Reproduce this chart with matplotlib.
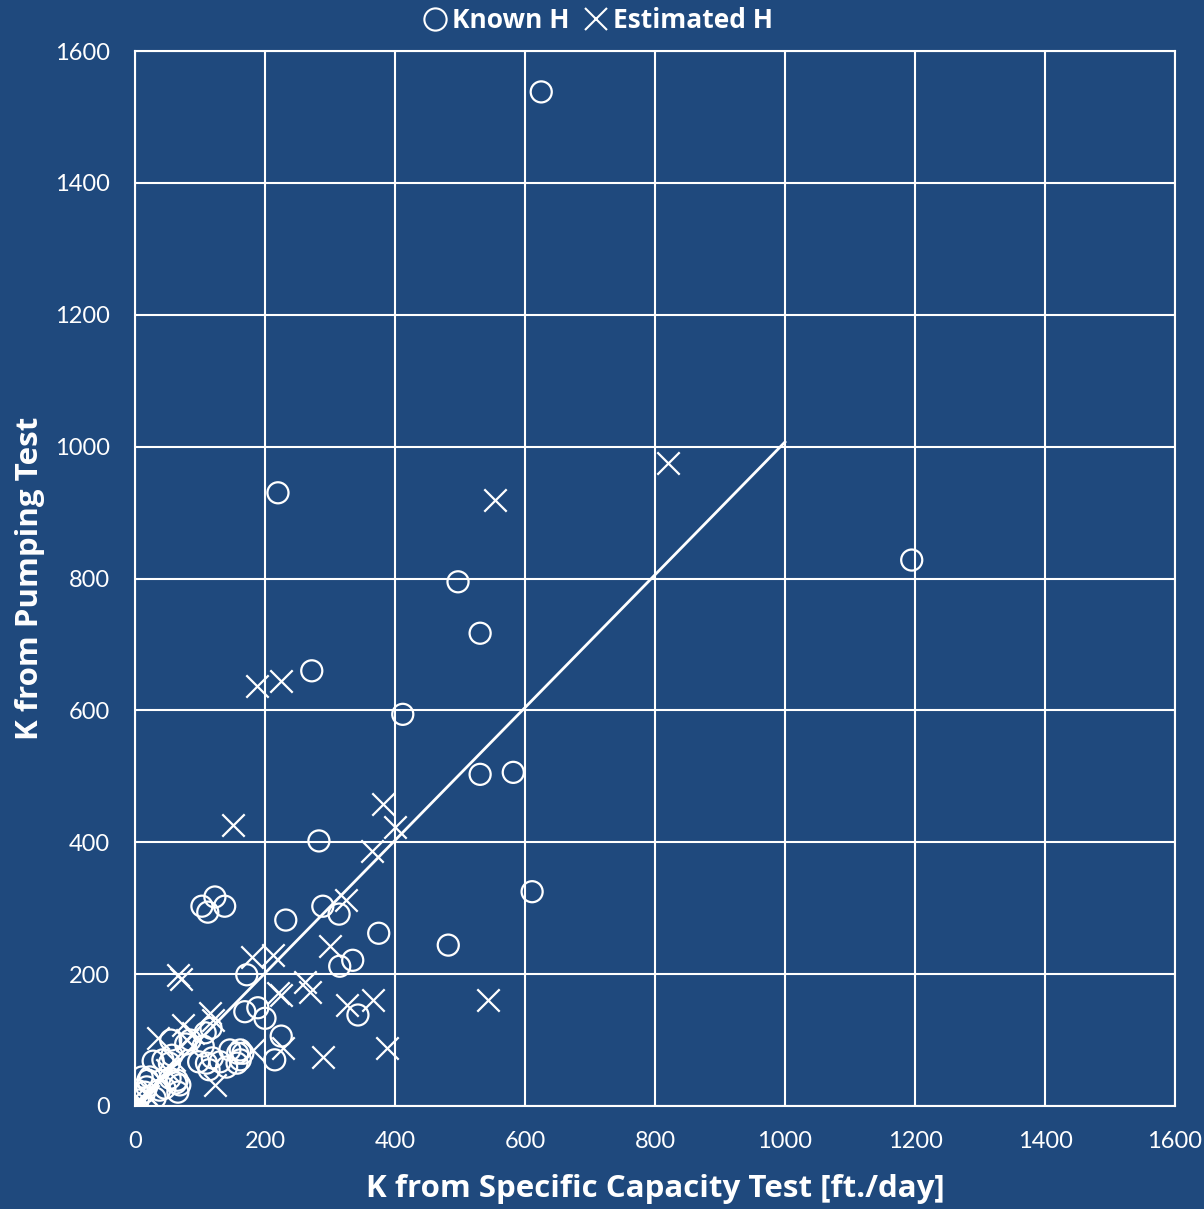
import numpy as np
import matplotlib.pyplot as plt
from matplotlib.lines import Line2D

# K values [ft/day]: specific capacity (x) vs pumping test (y)
known_x = [625, 220, 1195, 497, 531, 272, 412, 531, 582, 283, 611, 103, 123, 138, 112,
           232, 289, 314, 375, 482, 335, 315, 172, 343, 169, 189, 200, 225, 215, 162,
           146, 162, 117, 108, 78, 105, 98, 114, 131, 55, 28, 20, 15, 31, 63,
           66, 46, 54, 5, 57, 85, 43, 53, 110, 119, 158, 166, 157, 141, 11,
           23, 18, 65, 69, 38, 3]
known_y = [1538, 930, 828, 795, 717, 660, 594, 503, 506, 402, 325, 303, 317, 303, 294,
           282, 303, 291, 262, 244, 221, 212, 199, 138, 143, 149, 133, 106, 70, 70,
           85, 85, 118, 111, 94, 91, 67, 55, 67, 100, 68, 39, 21, 12, 35,
           21, 27, 42, 9, 77, 100, 70, 65, 65, 73, 80, 80, 65, 59, 44,
           44, 29, 39, 32, 24, 24]

est_x = [820, 554, 188, 225, 151, 382, 400, 365, 325, 180, 212, 300, 262, 269, 220,
         326, 366, 543, 388, 289, 228, 182, 66, 71, 115, 74, 35, 123, 0, 15,
         225, 10, 20, 40, 50, 60, 80, 90, 120, 5]
est_y = [975, 919, 637, 645, 426, 458, 423, 387, 312, 226, 229, 243, 188, 173, 171,
         153, 161, 161, 88, 74, 88, 85, 198, 192, 141, 123, 103, 32, 14, 20,
         168, 8, 15, 40, 55, 70, 100, 110, 130, 3]

fit_x = [0, 1000]
fit_y = [0, 1007]

bg = '#1F497D'
ticks = np.arange(0, 1601, 200)


def main():
    plt.rcParams['font.family'] = ['Lato', 'DejaVu Sans']
    bold = {'family': 'Open Sans', 'weight': 'bold'}
    fig = plt.figure(figsize=(12.04, 12.09), dpi=100, facecolor=bg)
    ax = fig.add_axes([0.1121, 0.0852, 0.8638, 0.8726], facecolor=bg)

    ax.plot(fit_x, fit_y, color='white', lw=2, zorder=2)
    ax.scatter(known_x, known_y, s=230, facecolors='none', edgecolors='white',
               linewidths=1.6, zorder=3)
    ax.scatter(est_x, est_y, s=260, marker='x', color='white',
               linewidths=1.6, zorder=3)

    ax.set_xlim(0, 1600)
    ax.set_ylim(0, 1600)
    ax.set_xticks(ticks)
    ax.set_yticks(ticks)
    ax.grid(True, color='white', lw=1.5)
    ax.set_axisbelow(True)
    for sp in ax.spines.values():
        sp.set_color('white')
        sp.set_linewidth(1.5)
    ax.tick_params(colors='white', labelsize=17, length=0)
    ax.tick_params(axis='x', pad=18)
    ax.tick_params(axis='y', pad=18)

    ax.set_xlabel('K from Specific Capacity Test [ft./day]', color='white',
                  fontsize=22.5, fontdict=bold, labelpad=16)
    ax.set_ylabel('K from Pumping Test', color='white',
                  fontsize=22.5, fontdict=bold, labelpad=7)

    handles = [Line2D([], [], ls='none', marker='o', ms=16, mfc='none', mec='white', mew=1.5),
               Line2D([], [], ls='none', marker='x', ms=16, mec='white', mew=1.5)]
    leg = fig.legend(handles, ['Known H', 'Estimated H'], loc='upper center',
                     bbox_to_anchor=(0.496, 1.014), ncol=2, frameon=False,
                     handletextpad=0.15, columnspacing=0.5, handlelength=1.0,
                     prop={'family': 'Open Sans', 'size': 19, 'weight': 'bold'})
    for t in leg.get_texts():
        t.set_color('white')

    fig.savefig('out.png', dpi=100, facecolor=bg)


if __name__ == "__main__":
    main()
